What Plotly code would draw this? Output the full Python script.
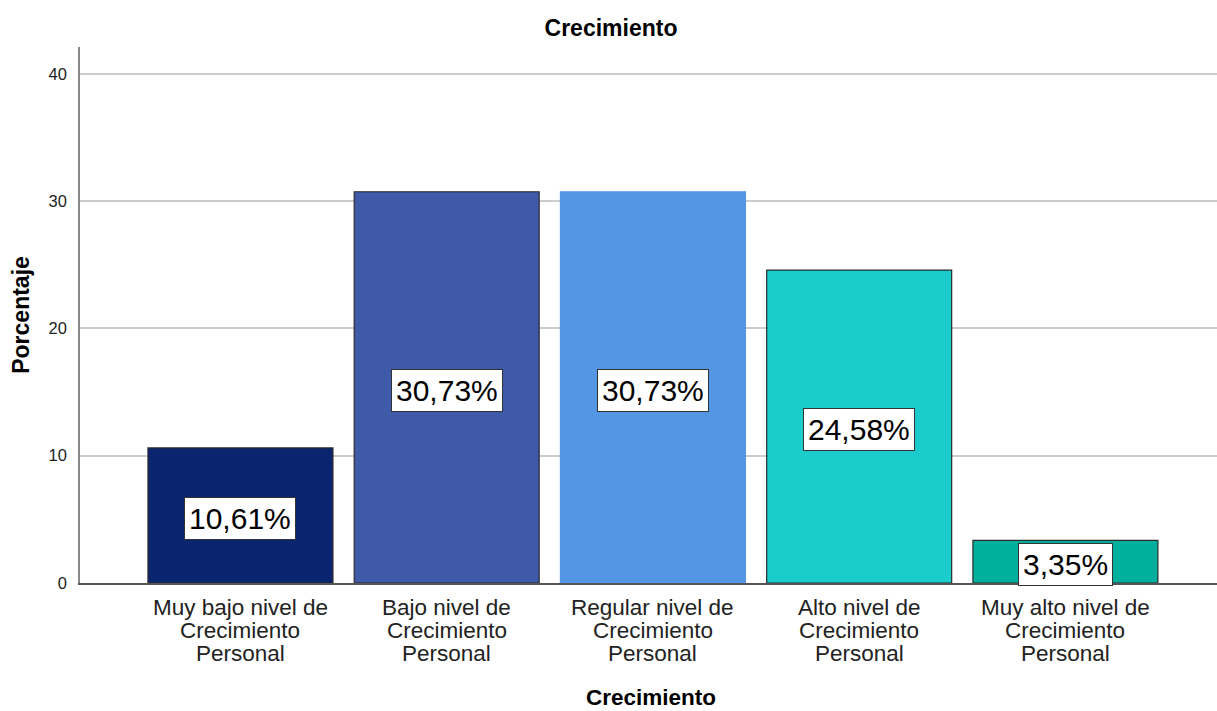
import plotly.graph_objects as go

categories = [
    "Muy bajo nivel de<br>Crecimiento<br>Personal",
    "Bajo nivel de<br>Crecimiento<br>Personal",
    "Regular nivel de<br>Crecimiento<br>Personal",
    "Alto nivel de<br>Crecimiento<br>Personal",
    "Muy alto nivel de<br>Crecimiento<br>Personal",
]
values = [10.61, 30.73, 30.73, 24.58, 3.35]
value_labels = ["10,61%", "30,73%", "30,73%", "24,58%", "3,35%"]
colors = ["#0a2470", "#3e5aa8", "#5596e4", "#1bcccc", "#00b09c"]
edge_colors = ["#2b2b2b", "#2b2b2b", "#5596e4", "#2b2b2b", "#2b2b2b"]
y_ticks = [0, 10, 20, 30, 40]

FONT = "Liberation Sans, Arial, sans-serif"
xpos = list(range(len(categories)))

W, H = 1217, 711
ML, MR, MT, MB = 80, 0, 47, 128
PW, PH = W - ML - MR, H - MT - MB

fig = go.Figure()
fig.add_trace(go.Bar(
    x=xpos, y=values,
    marker=dict(color=colors, line=dict(color=edge_colors, width=1.2)),
    width=0.897,
    hoverinfo="skip",
))

# value labels in the middle of bars
for xi, v, lab in zip(xpos, values, value_labels):
    fig.add_annotation(
        x=xi, y=v / 2, xref="x", yref="y", text=lab, showarrow=False,
        font=dict(family=FONT, size=30, color="#000000"),
        bgcolor="#ffffff", bordercolor="#333333", borderwidth=1, borderpad=4,
        yshift=-3,
    )

# category labels (one annotation per line for tight line spacing)
for xi, cat in zip(xpos, categories):
    for j, line in enumerate(cat.split("<br>")):
        fig.add_annotation(
            x=xi, y=0, xref="x", yref="y", text=line, showarrow=False,
            font=dict(family=FONT, size=22.5, color="#222222"),
            yanchor="middle", yshift=-24 - 23 * j,
        )

# x axis title
fig.add_annotation(
    x=(651 - ML) / PW, y=-(697 - (MT + PH)) / PH, xref="paper", yref="paper",
    text="<b>Crecimiento</b>", showarrow=False, yanchor="middle",
    font=dict(family=FONT, size=22.5, color="#000000"),
)

fig.update_layout(
    width=W, height=H,
    margin=dict(l=ML, r=MR, t=MT, b=MB),
    plot_bgcolor="#ffffff", paper_bgcolor="#ffffff",
    showlegend=False,
    title=dict(text="<b>Crecimiento</b>", x=611 / W, xanchor="center",
               y=1 - 28 / H, yanchor="middle",
               font=dict(family=FONT, size=23, color="#000000")),
    font=dict(family=FONT),
)

fig.update_xaxes(
    range=[-0.778, 4.735], showticklabels=False, ticks="",
    showgrid=False, zeroline=False,
    showline=True, linecolor="#555555", linewidth=1.5,
    fixedrange=True,
)

fig.update_yaxes(
    range=[0, 42.1], tickvals=y_ticks, ticktext=[str(t) for t in y_ticks],
    tickfont=dict(family=FONT, size=16.5, color="#222222"),
    ticks="", ticklabelstandoff=8,
    showgrid=True, gridcolor="#cccccc", gridwidth=1.5,
    zeroline=False,
    showline=True, linecolor="#888888", linewidth=1.5,
    title=dict(text="<b>Porcentaje</b>", font=dict(family=FONT, size=23, color="#000000"),
               standoff=13),
    automargin=False,
    fixedrange=True,
)

fig.write_html("out.html", config={"displayModeBar": False},
               post_script="document.body.style.margin='0';")
